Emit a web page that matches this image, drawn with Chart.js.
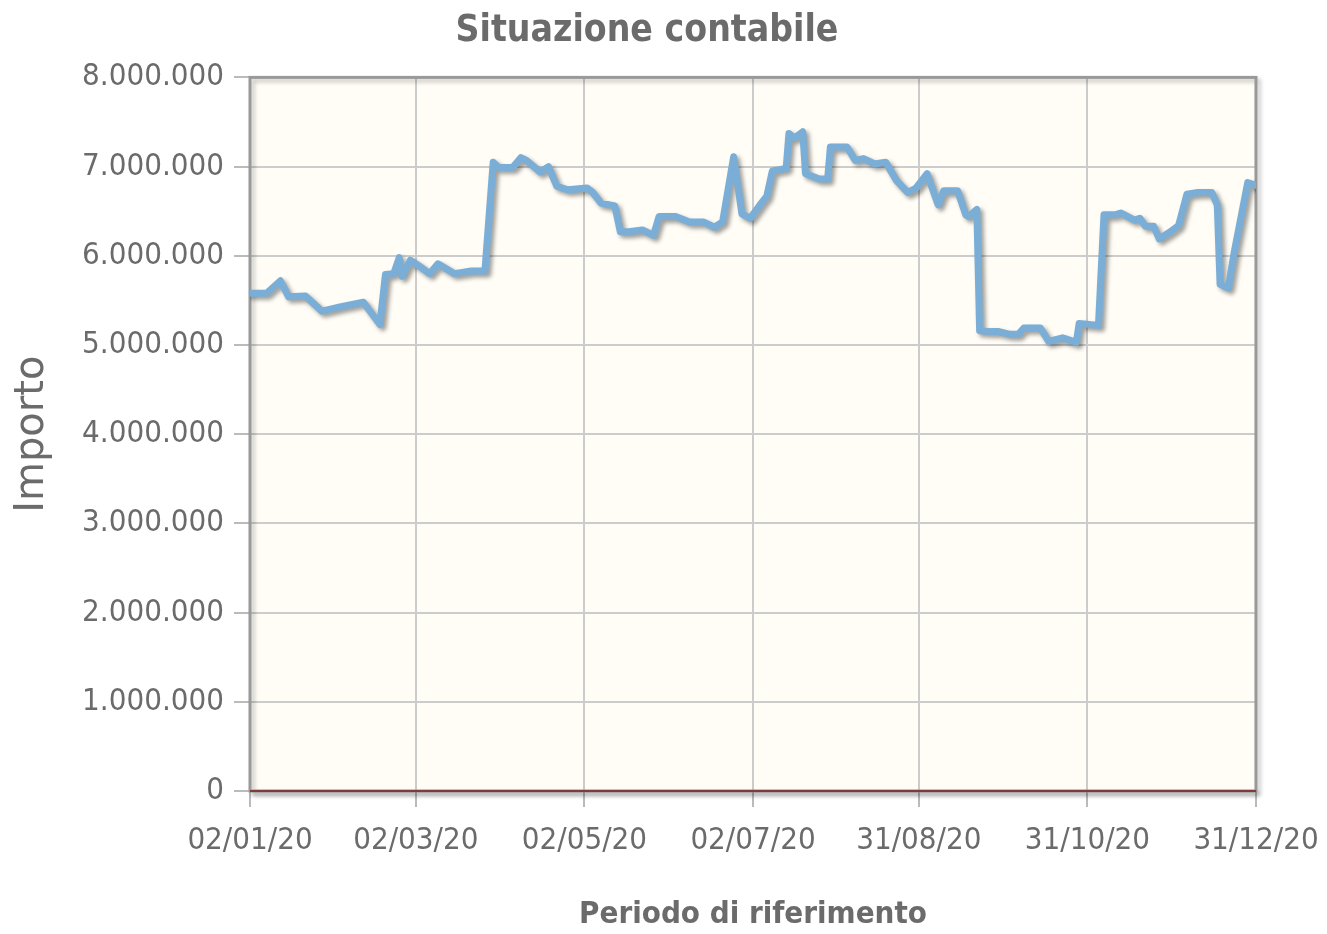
<!DOCTYPE html>
<html>
<head>
<meta charset="utf-8">
<script src="https://cdn.jsdelivr.net/npm/chart.js@4.4.1/dist/chart.umd.min.js"></script>
<style>
    body { margin: 0; background: #ffffff; }
    #wrap { width: 1327px; height: 934px; }
</style>
</head>
<body>
<div id="wrap"><canvas id="chart" width="1327" height="934"></canvas></div>
<script>
// giorni dal 02/01/20, importi in milioni
const giorni = [
    0, 6, 11, 14, 20, 26, 33, 41, 47, 49,
    52, 54, 55, 58, 61, 65, 68, 74, 80, 85,
    88, 90, 95, 98, 100, 105, 108, 111, 115, 122,
    124, 127, 132, 134, 137, 142, 146, 148, 154, 159,
    164, 168, 171, 175, 178, 181, 185, 187, 189, 194,
    195, 197, 200, 201, 206, 209, 210, 216, 219, 222,
    226, 230, 234, 238, 241, 245, 249, 251, 256, 259,
    260, 263, 264, 268, 271, 275, 278, 280, 286, 289,
    294, 299, 300, 307, 309, 313, 315, 320, 322, 324,
    327, 329, 333, 336, 339, 343, 348, 350, 351, 354,
    356, 361, 364
];
const importiMln = [
    5.58, 5.58, 5.72, 5.54, 5.55, 5.38, 5.43, 5.48, 5.23, 5.79,
    5.80, 5.98, 5.77, 5.95, 5.89, 5.80, 5.91, 5.80, 5.83, 5.83,
    7.05, 6.99, 6.99, 7.10, 7.07, 6.94, 7.00, 6.78, 6.74, 6.76,
    6.71, 6.59, 6.56, 6.27, 6.27, 6.29, 6.23, 6.44, 6.44, 6.38,
    6.38, 6.32, 6.38, 7.11, 6.47, 6.42, 6.59, 6.67, 6.95, 6.98,
    7.37, 7.32, 7.39, 6.92, 6.86, 6.86, 7.22, 7.22, 7.07, 7.09,
    7.03, 7.05, 6.84, 6.71, 6.76, 6.92, 6.57, 6.73, 6.73, 6.46,
    6.44, 6.52, 5.16, 5.15, 5.15, 5.12, 5.12, 5.19, 5.19, 5.04,
    5.08, 5.03, 5.24, 5.22, 6.46, 6.46, 6.48, 6.40, 6.42, 6.33,
    6.33, 6.19, 6.27, 6.34, 6.69, 6.71, 6.71, 6.57, 5.68, 5.64,
    6.02, 6.82, 6.79
];
// linea a zero (seconda serie)
const giorniBase = [0, 364];
const importiBase = [0, 0];

const tickGiorni = [0, 60, 121, 182, 242, 303, 364];
const tickEtichette = ['02/01/20', '02/03/20', '02/05/20', '02/07/20', '31/08/20', '31/10/20', '31/12/20'];

const FONT = '"DejaVu Sans Condensed", "DejaVu Sans", sans-serif';
const GREY = '#6b6b6b';

function formatImporto(v) {
    return String(Math.round(v)).replace(/\B(?=(\d{3})+(?!\d))/g, '.');
}

const serie = giorni.map((g, i) => ({ x: g, y: importiMln[i] * 1000000 }));
const base = giorniBase.map((g, i) => ({ x: g, y: importiBase[i] }));

// sfondo e cornice dell'area del grafico
const gridFrame = {
    id: 'gridFrame',
    beforeDraw(chart) {
        const { ctx, chartArea: a } = chart;
        ctx.save();
        ctx.fillStyle = '#fffdf6';
        ctx.fillRect(a.left, a.top, a.right - a.left, a.bottom - a.top);
        ctx.restore();
    },
    beforeDatasetsDraw(chart) {
        const { ctx, chartArea: a } = chart;
        ctx.save();
        ctx.shadowColor = 'rgba(0,0,0,0.25)';
        ctx.shadowOffsetX = 3;
        ctx.shadowOffsetY = 3;
        ctx.shadowBlur = 4;
        ctx.strokeStyle = '#999999';
        ctx.lineWidth = 3;
        ctx.strokeRect(a.left, a.top, a.right - a.left, a.bottom - a.top);
        ctx.restore();
    },
    beforeDatasetDraw(chart) {
        const ctx = chart.ctx;
        ctx.save();
        ctx.shadowColor = 'rgba(0,0,0,0.38)';
        ctx.shadowOffsetX = 3;
        ctx.shadowOffsetY = 3;
        ctx.shadowBlur = 4;
    },
    afterDatasetDraw(chart) {
        chart.ctx.restore();
    }
};

new Chart(document.getElementById('chart'), {
    type: 'line',
    data: {
        datasets: [
            {
                label: 'Base',
                data: base,
                borderColor: '#7d3b3b',
                borderWidth: 2,
                pointRadius: 0,
                clip: false,
                order: 2
            },
            {
                label: 'Importo',
                data: serie,
                borderColor: '#7aaed6',
                borderWidth: 7,
                borderJoinStyle: 'round',
                borderCapStyle: 'round',
                pointRadius: 0,
                tension: 0,
                order: 1
            }
        ]
    },
    options: {
        responsive: false,
        animation: false,
        devicePixelRatio: 1,
        layout: { padding: { top: 0, right: 71, bottom: 0, left: 38 } },
        plugins: {
            legend: { display: false },
            tooltip: { enabled: false },
            title: {
                display: true,
                text: 'Situazione contabile',
                color: GREY,
                font: { family: FONT, size: 37, weight: 'bold' },
                padding: { top: 9, bottom: 24 }
            }
        },
        scales: {
            x: {
                type: 'linear',
                min: 0,
                max: 364,
                afterBuildTicks(scale) {
                    scale.ticks = tickGiorni.map(v => ({ value: v }));
                },
                afterFit(scale) {
                    scale.height = 143;
                    scale.paddingLeft = 0;
                    scale.paddingRight = 0;
                },
                ticks: {
                    color: GREY,
                    font: { family: FONT, size: 31 },
                    padding: 15,
                    maxRotation: 0,
                    autoSkip: false,
                    callback: (v, i) => tickEtichette[i]
                },
                grid: { color: '#cccccc', lineWidth: 2, tickLength: 16, tickColor: '#bbbbbb' },
                border: { display: false },
                title: {
                    display: true,
                    text: 'Periodo di riferimento',
                    color: GREY,
                    font: { family: FONT, size: 31, weight: 'bold' },
                    padding: { top: 0, bottom: 0 }
                }
            },
            y: {
                min: 0,
                max: 8000000,
                afterFit(scale) { scale.width = 212; },
                ticks: {
                    stepSize: 1000000,
                    color: GREY,
                    font: { family: FONT, size: 31 },
                    padding: 10,
                    callback: v => formatImporto(v)
                },
                grid: { color: '#cccccc', lineWidth: 2, tickLength: 16, tickColor: '#bbbbbb' },
                border: { display: false },
                title: {
                    display: true,
                    text: 'Importo',
                    color: GREY,
                    font: { family: '"DejaVu Sans", sans-serif', size: 40 },
                    padding: { top: -29, bottom: 0 }
                }
            }
        }
    },
    plugins: [gridFrame]
});
</script>
</body>
</html>
